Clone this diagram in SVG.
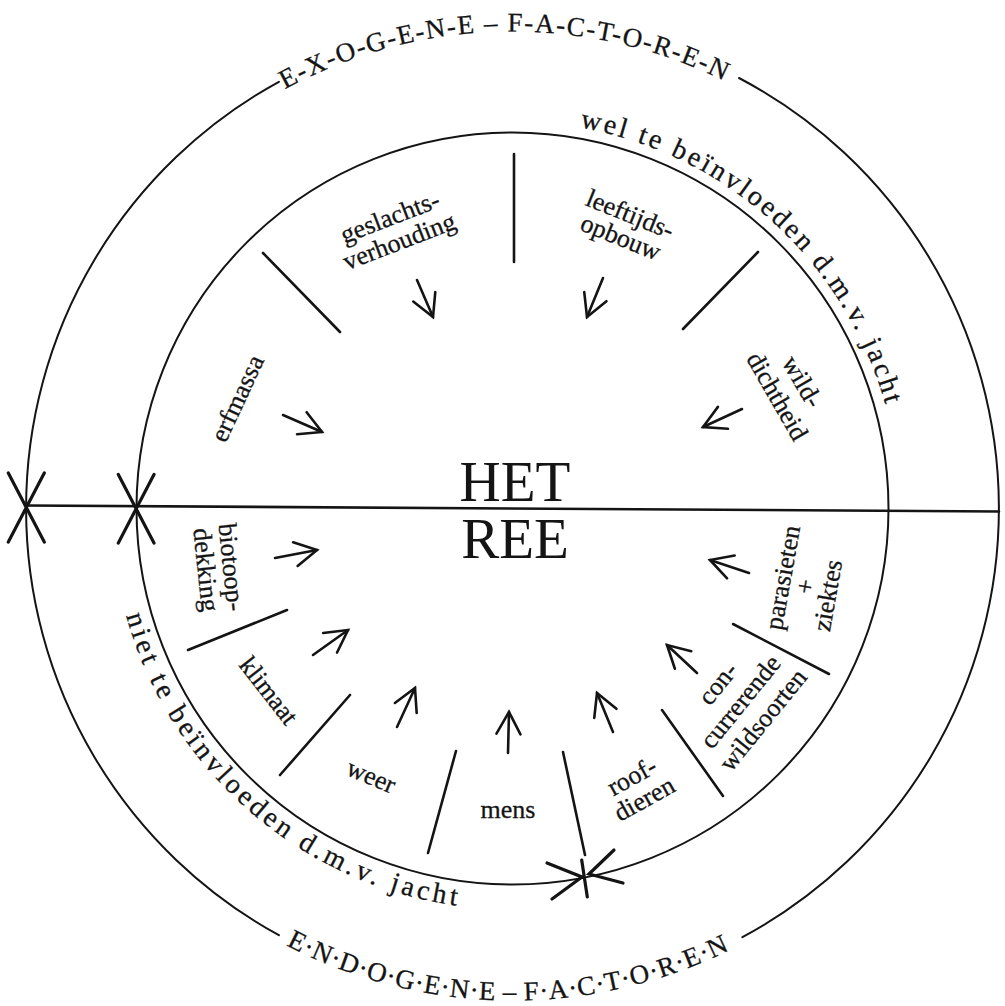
<svg xmlns="http://www.w3.org/2000/svg" width="1005" height="1006" viewBox="0 0 1005 1006">
<style>
.ln{fill:none;stroke:#141414;stroke-linecap:round}
.circ{stroke-width:2}
.div{stroke-width:2.6}
.xm{stroke-width:3.2}
.arw{fill:none;stroke:#141414;stroke-width:2.6;stroke-linecap:round;marker-end:url(#ah)}
.lbl{font-family:"Liberation Serif","Times New Roman",serif;font-size:26px;fill:#141414;stroke:#141414;stroke-width:0.3;text-anchor:middle}
.arc{font-family:"Liberation Serif","Times New Roman",serif;font-size:28px;fill:#141414;stroke:#141414;stroke-width:0.3}
.cap{font-family:"Liberation Serif","Times New Roman",serif;font-size:27px;fill:#141414;stroke:#141414;stroke-width:0.3}
.big{font-family:"Liberation Serif","Times New Roman",serif;font-size:57px;fill:#141414;text-anchor:middle}
</style>
<defs>
<marker id="ah" markerUnits="userSpaceOnUse" viewBox="-30 -20 40 40" markerWidth="40" markerHeight="40" refX="0" refY="0" orient="auto" overflow="visible">
<path d="M-22,-12 L0,0 L-22,12" fill="none" stroke="#141414" stroke-width="2.6" stroke-linecap="round"/>
</marker>
<path id="pWel" d="M 579.7 127.4 A 387 387 0 0 1 885.4 405.1"/>
<path id="pNiet" d="M 126.1 615.6 A 401 401 0 0 0 456.7 905.6"/>
<path id="pExo" d="M 284.9 89.3 A 477 477 0 0 1 723.9 80.9"/>
<path id="pEndo" d="M 286.1 945.3 A 492 492 0 0 0 729.7 950"/>
</defs>
<rect width="1005" height="1006" fill="#ffffff"/>

<g id="connectors">
<path class="ln circ" d="M 278.9 81.8 A 486.5 486.5 0 0 0 278.9 935.2"/>
<path class="ln circ" d="M 739 78 A 486.5 486.5 0 0 1 742.4 937.2"/>
<circle class="ln circ" cx="512.5" cy="508.5" r="376"/>
<line class="ln div" x1="26" y1="505.5" x2="999" y2="511.5"/>
<path class="ln xm" d="M8.3,473 L44.3,542 M44.3,473 L8.3,542"/>
<path class="ln xm" d="M118.3,474.5 L154,543 M154,474.5 L118.3,543"/>
<path class="ln xm" d="M547,863 L582,877 L552,899 M614,850 L589,874 L623,883 M581.7,860 L587.3,897"/>
<line class="ln div" x1="514" y1="154" x2="514" y2="262"/>
<line class="ln div" x1="263" y1="253" x2="340" y2="332"/>
<line class="ln div" x1="758" y1="252" x2="683" y2="329"/>
<line class="ln div" x1="188" y1="650" x2="287" y2="610"/>
<line class="ln div" x1="280" y1="775" x2="350" y2="695"/>
<line class="ln div" x1="428" y1="853" x2="456" y2="751"/>
<line class="ln div" x1="563" y1="752" x2="585" y2="855"/>
<line class="ln div" x1="662" y1="710" x2="723" y2="796"/>
<line class="ln div" x1="733" y1="624" x2="829" y2="674"/>
<line class="arw" x1="283" y1="415" x2="322" y2="432"/>
<line class="arw" x1="417" y1="280" x2="433" y2="317"/>
<line class="arw" x1="603" y1="278" x2="587" y2="317"/>
<line class="arw" x1="742" y1="409" x2="703" y2="427"/>
<line class="arw" x1="275" y1="558" x2="317" y2="550"/>
<line class="arw" x1="313" y1="655" x2="348" y2="630"/>
<line class="arw" x1="397" y1="727" x2="415" y2="688"/>
<line class="arw" x1="508" y1="753" x2="509" y2="712"/>
<line class="arw" x1="613" y1="732" x2="597" y2="693"/>
<line class="arw" x1="697" y1="673" x2="667" y2="645"/>
<line class="arw" x1="749" y1="573" x2="710" y2="560"/>
</g>

<g id="outer-labels">
<text class="cap"><textPath href="#pExo" textLength="456" lengthAdjust="spacing">E-X-O-G-E-N-E – F-A-C-T-O-R-E-N</textPath></text>
<text class="cap"><textPath href="#pEndo" textLength="460" lengthAdjust="spacing">E·N·D·O·G·E·N·E – F·A·C·T·O·R·E·N</textPath></text>
<text class="arc"><textPath href="#pWel" textLength="435" lengthAdjust="spacing">wel te beïnvloeden d.m.v. jacht</textPath></text>
<text class="arc"><textPath href="#pNiet" textLength="465" lengthAdjust="spacing">niet te beïnvloeden d.m.v. jacht</textPath></text>
</g>

<g id="node-het-ree">
<text class="big" x="515" y="501">HET</text>
<text class="big" x="515" y="558">REE</text>
</g>

<g id="node-geslachtsverhouding" transform="translate(393,225) rotate(-21)">
<text class="lbl"><tspan x="0" y="0">geslachts-</tspan><tspan x="0" y="26">verhouding</tspan></text>
</g>
<g id="node-leeftijdsopbouw" transform="translate(627,222) rotate(22)">
<text class="lbl"><tspan x="0" y="0">leeftijds-</tspan><tspan x="0" y="25">opbouw</tspan></text>
</g>
<g id="node-wilddichtheid" transform="translate(795,386) rotate(60)">
<text class="lbl"><tspan x="0" y="0">wild-</tspan><tspan x="0" y="29">dichtheid</tspan></text>
</g>
<g id="node-erfmassa" transform="translate(245,402) rotate(-65)">
<text class="lbl">erfmassa</text>
</g>
<g id="node-biotoopdekking" transform="translate(223,568) rotate(84)">
<text class="lbl"><tspan x="0" y="0">biotoop-</tspan><tspan x="0" y="25.5">dekking</tspan></text>
</g>
<g id="node-klimaat" transform="translate(262,696) rotate(52)">
<text class="lbl">klimaat</text>
</g>
<g id="node-weer" transform="translate(368,784) rotate(23)">
<text class="lbl">weer</text>
</g>
<g id="node-mens">
<text class="lbl" x="508" y="818">mens</text>
</g>
<g id="node-roofdieren" transform="translate(636,784) rotate(-29)">
<text class="lbl"><tspan x="0" y="0">roof-</tspan><tspan x="0" y="25.5">dieren</tspan></text>
</g>
<g id="node-concurrerende-wildsoorten" transform="translate(747,707) rotate(-51)">
<text class="lbl"><tspan x="0" y="-29">con-</tspan><tspan x="0" y="0">currerende</tspan><tspan x="0" y="29">wildsoorten</tspan></text>
</g>
<g id="node-parasieten-ziektes" transform="translate(791,579) rotate(-80)">
<text class="lbl"><tspan x="0" y="0">parasieten</tspan><tspan x="-5" y="23.7">+</tspan><tspan x="-10" y="47.4">ziektes</tspan></text>
</g>
</svg>
